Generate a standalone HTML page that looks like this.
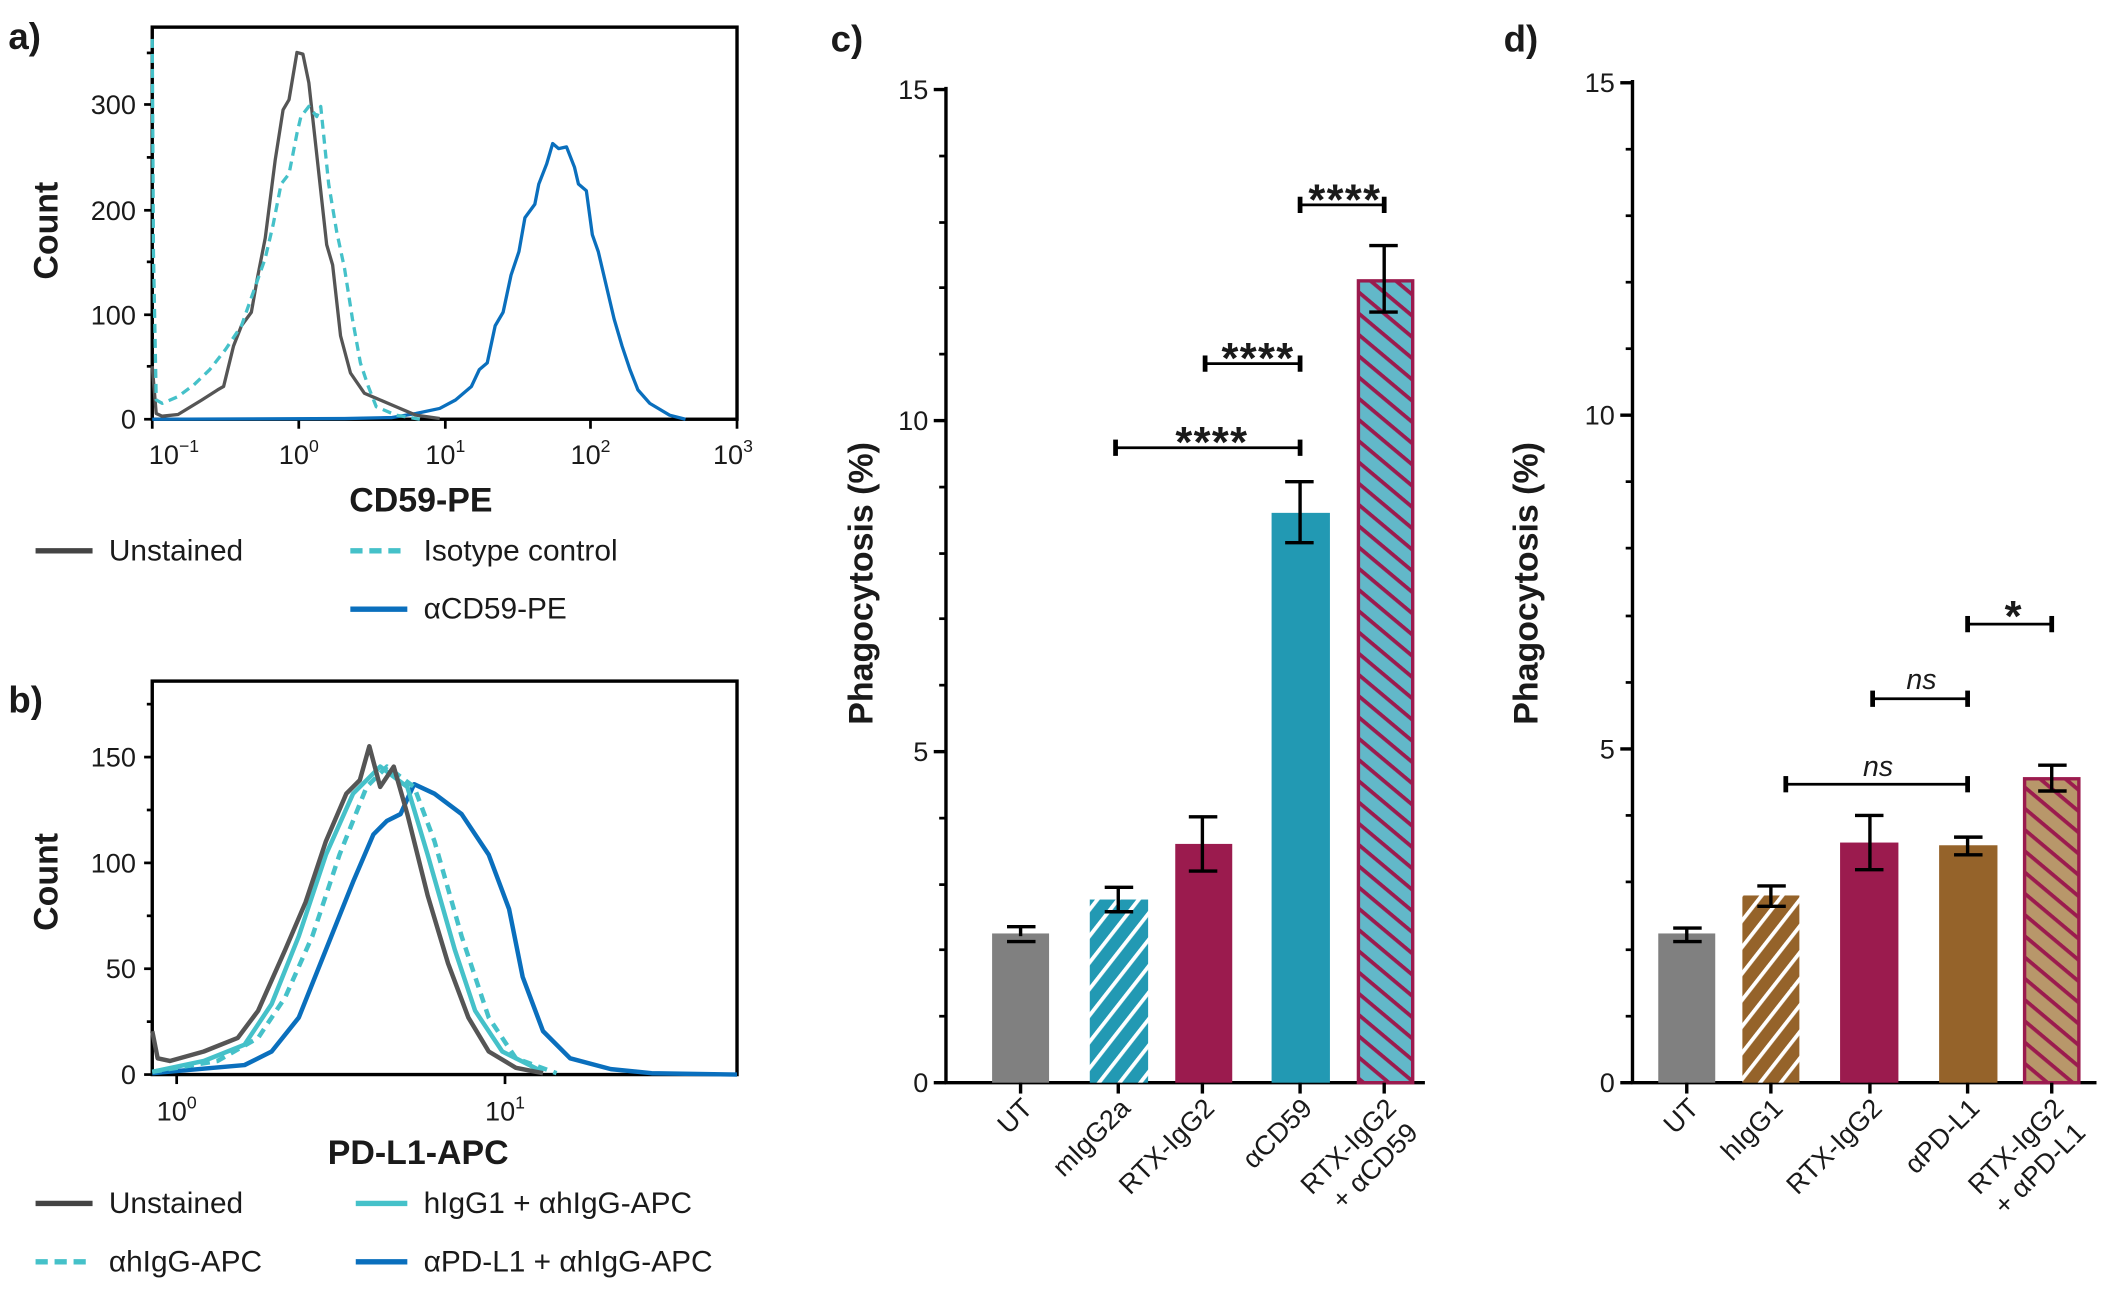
<!DOCTYPE html>
<html><head><meta charset="utf-8"><style>
html,body{margin:0;padding:0;background:#fff}
svg{display:block}
text{font-family:"Liberation Sans",Arial,sans-serif;fill:#1a1a1a}
.b{font-weight:bold}
.st{font-size:32px;font-weight:bold;letter-spacing:1px}
</style></head><body>
<svg width="2128" height="1293" viewBox="0 0 1568 953" xmlns="http://www.w3.org/2000/svg">
<defs>
<pattern id="p1" patternUnits="userSpaceOnUse" width="12" height="12" patternTransform="rotate(-52)"><rect width="12" height="12" fill="#2299b3"/><rect width="12" height="2.8" fill="#fff"/></pattern>
<pattern id="p2" patternUnits="userSpaceOnUse" width="12" height="12" patternTransform="rotate(40)"><rect width="12" height="12" fill="#62b8c9"/><rect width="12" height="2.8" fill="#9b1b4e"/></pattern>
<pattern id="p3" patternUnits="userSpaceOnUse" width="12" height="12" patternTransform="rotate(-52)"><rect width="12" height="12" fill="#95632a"/><rect width="12" height="2.8" fill="#fff"/></pattern>
<pattern id="p4" patternUnits="userSpaceOnUse" width="12" height="12" patternTransform="rotate(40)"><rect width="12" height="12" fill="#b8976a"/><rect width="12" height="2.8" fill="#9b1b4e"/></pattern>
</defs>

<!-- Panel a -->
<text x="6" y="36" class="b" font-size="27">a)</text>
<rect x="112" y="20" width="431" height="289" stroke="#000" stroke-width="2.5" fill="none"/>
<g stroke="#000" stroke-width="2">
<line x1="106" y1="309" x2="112" y2="309"/><line x1="106" y1="232" x2="112" y2="232"/><line x1="106" y1="155" x2="112" y2="155"/><line x1="106" y1="77" x2="112" y2="77"/>
<line x1="108" y1="270" x2="112" y2="270"/><line x1="108" y1="193" x2="112" y2="193"/><line x1="108" y1="116" x2="112" y2="116"/><line x1="108" y1="39" x2="112" y2="39"/>
<line x1="112" y1="309" x2="112" y2="316"/><line x1="220" y1="309" x2="220" y2="316"/><line x1="328" y1="309" x2="328" y2="316"/><line x1="435" y1="309" x2="435" y2="316"/><line x1="543" y1="309" x2="543" y2="316"/>
</g>
<g font-size="20" text-anchor="end">
<text x="100" y="316">0</text><text x="100" y="239">100</text><text x="100" y="162">200</text><text x="100" y="84">300</text>
</g>
<g font-size="20" text-anchor="middle">
<text x="128" y="342">10<tspan font-size="13" dy="-9">−1</tspan></text>
<text x="220" y="342">10<tspan font-size="13" dy="-9">0</tspan></text>
<text x="328" y="342">10<tspan font-size="13" dy="-9">1</tspan></text>
<text x="435" y="342">10<tspan font-size="13" dy="-9">2</tspan></text>
<text x="540" y="342">10<tspan font-size="13" dy="-9">3</tspan></text>
</g>
<text x="310" y="377" class="b" font-size="25" text-anchor="middle">CD59-PE</text>
<text transform="translate(42,170) rotate(-90)" class="b" font-size="25" text-anchor="middle">Count</text>
<g transform="translate(112,20) scale(0.2922,0.2487) translate(-35,-35)" fill="none" stroke-linejoin="round">
<polyline vector-effect="non-scaling-stroke" stroke="#0a6fbd" stroke-width="3.3" points="35,1197 520,1195 640,1192 700,1180 760,1165 800,1140 840,1100 860,1050 880,1030 900,920 920,880 940,770 960,700 975,600 1000,560 1010,500 1030,440 1045,380 1060,395 1080,390 1100,450 1110,500 1130,520 1145,650 1160,700 1180,800 1200,900 1220,980 1240,1050 1260,1110 1290,1150 1340,1185 1380,1197"/>
<polyline vector-effect="non-scaling-stroke" stroke="#555" stroke-width="3.3" points="35,1040 45,1180 60,1188 100,1183 160,1140 200,1110 215,1100 240,980 260,920 285,880 300,780 320,660 345,430 365,280 380,250 400,110 415,115 430,200 460,520 475,680 490,740 510,950 535,1060 570,1120 600,1135 650,1160 700,1185 760,1195"/>
<polyline vector-effect="non-scaling-stroke" stroke="#45c1c9" stroke-width="3.3" stroke-dasharray="9,6" points="35,70 38,700 45,1140 60,1150 100,1130 140,1095 180,1050 220,990 260,920 290,820 320,720 340,620 360,500 380,470 400,350 410,300 430,270 450,300 460,270 480,500 500,640 520,750 540,900 560,1030 580,1100 600,1160 650,1185 710,1197"/>
</g>
<g stroke-width="4">
<line x1="26" y1="406" x2="68" y2="406" stroke="#444"/>
<line x1="258" y1="406" x2="300" y2="406" stroke="#45c1c9" stroke-dasharray="9,5"/>
<line x1="258" y1="449" x2="300" y2="449" stroke="#0a6fbd"/>
</g>
<g font-size="22">
<text x="80" y="413">Unstained</text><text x="312" y="413">Isotype control</text><text x="312" y="456">αCD59-PE</text>
</g>

<!-- Panel b -->
<text x="6" y="525" class="b" font-size="27">b)</text>
<rect x="112" y="502" width="431" height="290" stroke="#000" stroke-width="2.5" fill="none"/>
<g stroke="#000" stroke-width="2">
<line x1="106" y1="792" x2="112" y2="792"/><line x1="106" y1="714" x2="112" y2="714"/><line x1="106" y1="636" x2="112" y2="636"/><line x1="106" y1="558" x2="112" y2="558"/>
<line x1="108" y1="753" x2="112" y2="753"/><line x1="108" y1="675" x2="112" y2="675"/><line x1="108" y1="597" x2="112" y2="597"/><line x1="108" y1="519" x2="112" y2="519"/>
<line x1="130" y1="792" x2="130" y2="799"/><line x1="372" y1="792" x2="372" y2="799"/>
</g>
<g font-size="20" text-anchor="end">
<text x="100" y="799">0</text><text x="100" y="721">50</text><text x="100" y="643">100</text><text x="100" y="565">150</text>
</g>
<g font-size="20" text-anchor="middle">
<text x="130" y="826">10<tspan font-size="13" dy="-9">0</tspan></text>
<text x="372" y="826">10<tspan font-size="13" dy="-9">1</tspan></text>
</g>
<text x="308" y="858" class="b" font-size="25" text-anchor="middle">PD-L1-APC</text>
<text transform="translate(42,650) rotate(-90)" class="b" font-size="25" text-anchor="middle">Count</text>
<g fill="none" stroke-linejoin="round" stroke-width="3.3">
<polyline stroke="#0a6fbd" points="112,791 180,785 200,775 220,750 240,700 260,650 275,615 285,605 295,600 305,578 320,585 340,600 360,630 375,670 385,720 400,760 420,780 450,788 480,791 543,792"/>
<polyline stroke="#45c1c9" points="112,790 150,782 180,770 200,740 220,690 240,630 260,585 280,565 300,580 315,630 335,700 350,745 370,775 400,790"/>
<polyline stroke="#45c1c9" stroke-dasharray="7,5" points="112,790 160,782 190,765 210,735 230,690 250,630 270,580 285,565 305,580 320,620 340,690 360,750 380,780 410,791"/>
<polyline stroke="#555" points="112,760 116,780 125,782 150,775 175,765 190,745 210,700 225,665 240,620 255,585 265,575 272,550 280,580 290,565 300,600 315,660 330,710 345,750 360,775 380,787 400,791"/>
</g>
<g stroke-width="4">
<line x1="26" y1="887" x2="68" y2="887" stroke="#444"/>
<line x1="26" y1="930" x2="68" y2="930" stroke="#45c1c9" stroke-dasharray="9,5"/>
<line x1="262" y1="887" x2="300" y2="887" stroke="#45c1c9"/>
<line x1="262" y1="930" x2="300" y2="930" stroke="#0a6fbd"/>
</g>
<g font-size="22">
<text x="80" y="894">Unstained</text><text x="80" y="937">αhIgG-APC</text>
<text x="312" y="894">hIgG1 + αhIgG-APC</text><text x="312" y="937">αPD-L1 + αhIgG-APC</text>
</g>

<!-- Panel c -->
<text x="612" y="38" class="b" font-size="27">c)</text>
<text transform="translate(643,430) rotate(-90)" class="b" font-size="25" text-anchor="middle">Phagocytosis (%)</text>
<g stroke="#000" stroke-width="2.5">
<line x1="697" y1="64" x2="697" y2="799"/><line x1="696" y1="798" x2="1050" y2="798"/>
<line x1="688" y1="798" x2="697" y2="798"/><line x1="688" y1="554" x2="697" y2="554"/><line x1="688" y1="310" x2="697" y2="310"/><line x1="688" y1="66" x2="697" y2="66"/>
</g>
<g stroke="#000" stroke-width="2">
<line x1="692" y1="749" x2="697" y2="749"/><line x1="692" y1="700" x2="697" y2="700"/><line x1="692" y1="652" x2="697" y2="652"/><line x1="692" y1="603" x2="697" y2="603"/>
<line x1="692" y1="505" x2="697" y2="505"/><line x1="692" y1="456" x2="697" y2="456"/><line x1="692" y1="408" x2="697" y2="408"/><line x1="692" y1="359" x2="697" y2="359"/>
<line x1="692" y1="261" x2="697" y2="261"/><line x1="692" y1="212" x2="697" y2="212"/><line x1="692" y1="164" x2="697" y2="164"/><line x1="692" y1="115" x2="697" y2="115"/>
</g>
<g font-size="20" text-anchor="end">
<text x="684" y="805">0</text><text x="684" y="561">5</text><text x="684" y="317">10</text><text x="684" y="73">15</text>
</g>
<rect x="731" y="688" width="42" height="110" fill="#808080"/>
<rect x="803" y="663" width="43" height="135" fill="url(#p1)"/>
<rect x="866" y="622" width="42" height="176" fill="#9b1b4e"/>
<rect x="937" y="378" width="43" height="420" fill="#2299b3"/>
<rect x="1001" y="207" width="40" height="591" fill="url(#p2)" stroke="#9b1b4e" stroke-width="2.5"/>
<g stroke="#000" stroke-width="2.5">
<line x1="752" y1="690" x2="752" y2="683"/><line x1="742" y1="683" x2="763" y2="683"/><line x1="742" y1="694" x2="763" y2="694"/>
<line x1="824" y1="672" x2="824" y2="654"/><line x1="814" y1="654" x2="835" y2="654"/><line x1="814" y1="672" x2="835" y2="672"/>
<line x1="886" y1="602" x2="886" y2="642"/><line x1="876" y1="602" x2="897" y2="602"/><line x1="876" y1="642" x2="897" y2="642"/>
<line x1="958" y1="355" x2="958" y2="400"/><line x1="947" y1="355" x2="968" y2="355"/><line x1="947" y1="400" x2="968" y2="400"/>
<line x1="1020" y1="181" x2="1020" y2="230"/><line x1="1009" y1="181" x2="1030" y2="181"/><line x1="1009" y1="230" x2="1030" y2="230"/>
<line x1="752" y1="798" x2="752" y2="806"/><line x1="824" y1="798" x2="824" y2="806"/><line x1="886" y1="798" x2="886" y2="806"/><line x1="958" y1="798" x2="958" y2="806"/><line x1="1020" y1="798" x2="1020" y2="806"/>
</g>
<g stroke="#000" stroke-width="2"><line x1="822" y1="330" x2="958" y2="330"/><line x1="888" y1="268" x2="958" y2="268"/><line x1="958" y1="151" x2="1020" y2="151"/></g>
<g stroke="#000" stroke-width="3.5"><line x1="822" y1="324" x2="822" y2="336"/><line x1="958" y1="324" x2="958" y2="336"/><line x1="888" y1="262" x2="888" y2="274"/><line x1="958" y1="262" x2="958" y2="274"/><line x1="958" y1="145" x2="958" y2="157"/><line x1="1020" y1="145" x2="1020" y2="157"/></g>
<g text-anchor="middle" class="st">
<text x="893" y="337">****</text><text x="927" y="275">****</text><text x="991" y="158">****</text>
</g>
<g font-size="20" text-anchor="end">
<text transform="translate(762,818) rotate(-45)">UT</text>
<text transform="translate(834,818) rotate(-45)">mIgG2a</text>
<text transform="translate(896,818) rotate(-45)">RTX-IgG2</text>
<text transform="translate(968,818) rotate(-45)">αCD59</text>
<text transform="translate(1030,818) rotate(-45)">RTX-IgG2</text>
<text transform="translate(1046,836) rotate(-45)">+ αCD59</text>
</g>

<!-- Panel d -->
<text x="1108" y="38" class="b" font-size="27">d)</text>
<text transform="translate(1133,430) rotate(-90)" class="b" font-size="25" text-anchor="middle">Phagocytosis (%)</text>
<g stroke="#000" stroke-width="2.5">
<line x1="1203" y1="59" x2="1203" y2="799"/><line x1="1202" y1="798" x2="1545" y2="798"/>
<line x1="1194" y1="798" x2="1203" y2="798"/><line x1="1194" y1="552" x2="1203" y2="552"/><line x1="1194" y1="306" x2="1203" y2="306"/><line x1="1194" y1="61" x2="1203" y2="61"/>
</g>
<g stroke="#000" stroke-width="2">
<line x1="1198" y1="749" x2="1203" y2="749"/><line x1="1198" y1="700" x2="1203" y2="700"/><line x1="1198" y1="650" x2="1203" y2="650"/><line x1="1198" y1="601" x2="1203" y2="601"/>
<line x1="1198" y1="503" x2="1203" y2="503"/><line x1="1198" y1="454" x2="1203" y2="454"/><line x1="1198" y1="404" x2="1203" y2="404"/><line x1="1198" y1="355" x2="1203" y2="355"/>
<line x1="1198" y1="257" x2="1203" y2="257"/><line x1="1198" y1="208" x2="1203" y2="208"/><line x1="1198" y1="159" x2="1203" y2="159"/><line x1="1198" y1="110" x2="1203" y2="110"/>
</g>
<g font-size="20" text-anchor="end">
<text x="1190" y="805">0</text><text x="1190" y="559">5</text><text x="1190" y="313">10</text><text x="1190" y="68">15</text>
</g>
<rect x="1222" y="688" width="42" height="110" fill="#808080"/>
<rect x="1284" y="660" width="42" height="138" fill="url(#p3)"/>
<rect x="1356" y="621" width="43" height="177" fill="#9b1b4e"/>
<rect x="1429" y="623" width="43" height="175" fill="#95632a"/>
<rect x="1492" y="574" width="40" height="224" fill="url(#p4)" stroke="#9b1b4e" stroke-width="2.5"/>
<g stroke="#000" stroke-width="2.5">
<line x1="1243" y1="684" x2="1243" y2="694"/><line x1="1233" y1="684" x2="1254" y2="684"/><line x1="1233" y1="694" x2="1254" y2="694"/>
<line x1="1305" y1="653" x2="1305" y2="668"/><line x1="1295" y1="653" x2="1316" y2="653"/><line x1="1295" y1="668" x2="1316" y2="668"/>
<line x1="1378" y1="601" x2="1378" y2="641"/><line x1="1367" y1="601" x2="1388" y2="601"/><line x1="1367" y1="641" x2="1388" y2="641"/>
<line x1="1450" y1="617" x2="1450" y2="630"/><line x1="1440" y1="617" x2="1461" y2="617"/><line x1="1440" y1="630" x2="1461" y2="630"/>
<line x1="1512" y1="564" x2="1512" y2="583"/><line x1="1502" y1="564" x2="1523" y2="564"/><line x1="1502" y1="583" x2="1523" y2="583"/>
<line x1="1243" y1="798" x2="1243" y2="806"/><line x1="1305" y1="798" x2="1305" y2="806"/><line x1="1378" y1="798" x2="1378" y2="806"/><line x1="1450" y1="798" x2="1450" y2="806"/><line x1="1512" y1="798" x2="1512" y2="806"/>
</g>
<g stroke="#000" stroke-width="2"><line x1="1316" y1="578" x2="1450" y2="578"/><line x1="1380" y1="515" x2="1450" y2="515"/><line x1="1450" y1="460" x2="1512" y2="460"/></g>
<g stroke="#000" stroke-width="3.5"><line x1="1316" y1="572" x2="1316" y2="584"/><line x1="1450" y1="572" x2="1450" y2="584"/><line x1="1380" y1="509" x2="1380" y2="521"/><line x1="1450" y1="509" x2="1450" y2="521"/><line x1="1450" y1="454" x2="1450" y2="466"/><line x1="1512" y1="454" x2="1512" y2="466"/></g>
<g font-size="21" text-anchor="middle" font-style="italic">
<text x="1384" y="572">ns</text><text x="1416" y="508">ns</text>
</g>
<text x="1484" y="465" class="st" text-anchor="middle">*</text>
<g font-size="20" text-anchor="end">
<text transform="translate(1253,818) rotate(-45)">UT</text>
<text transform="translate(1315,818) rotate(-45)">hIgG1</text>
<text transform="translate(1388,818) rotate(-45)">RTX-IgG2</text>
<text transform="translate(1460,818) rotate(-45)">αPD-L1</text>
<text transform="translate(1522,818) rotate(-45)">RTX-IgG2</text>
<text transform="translate(1538,836) rotate(-45)">+ αPD-L1</text>
</g>
</svg>
</body></html>
